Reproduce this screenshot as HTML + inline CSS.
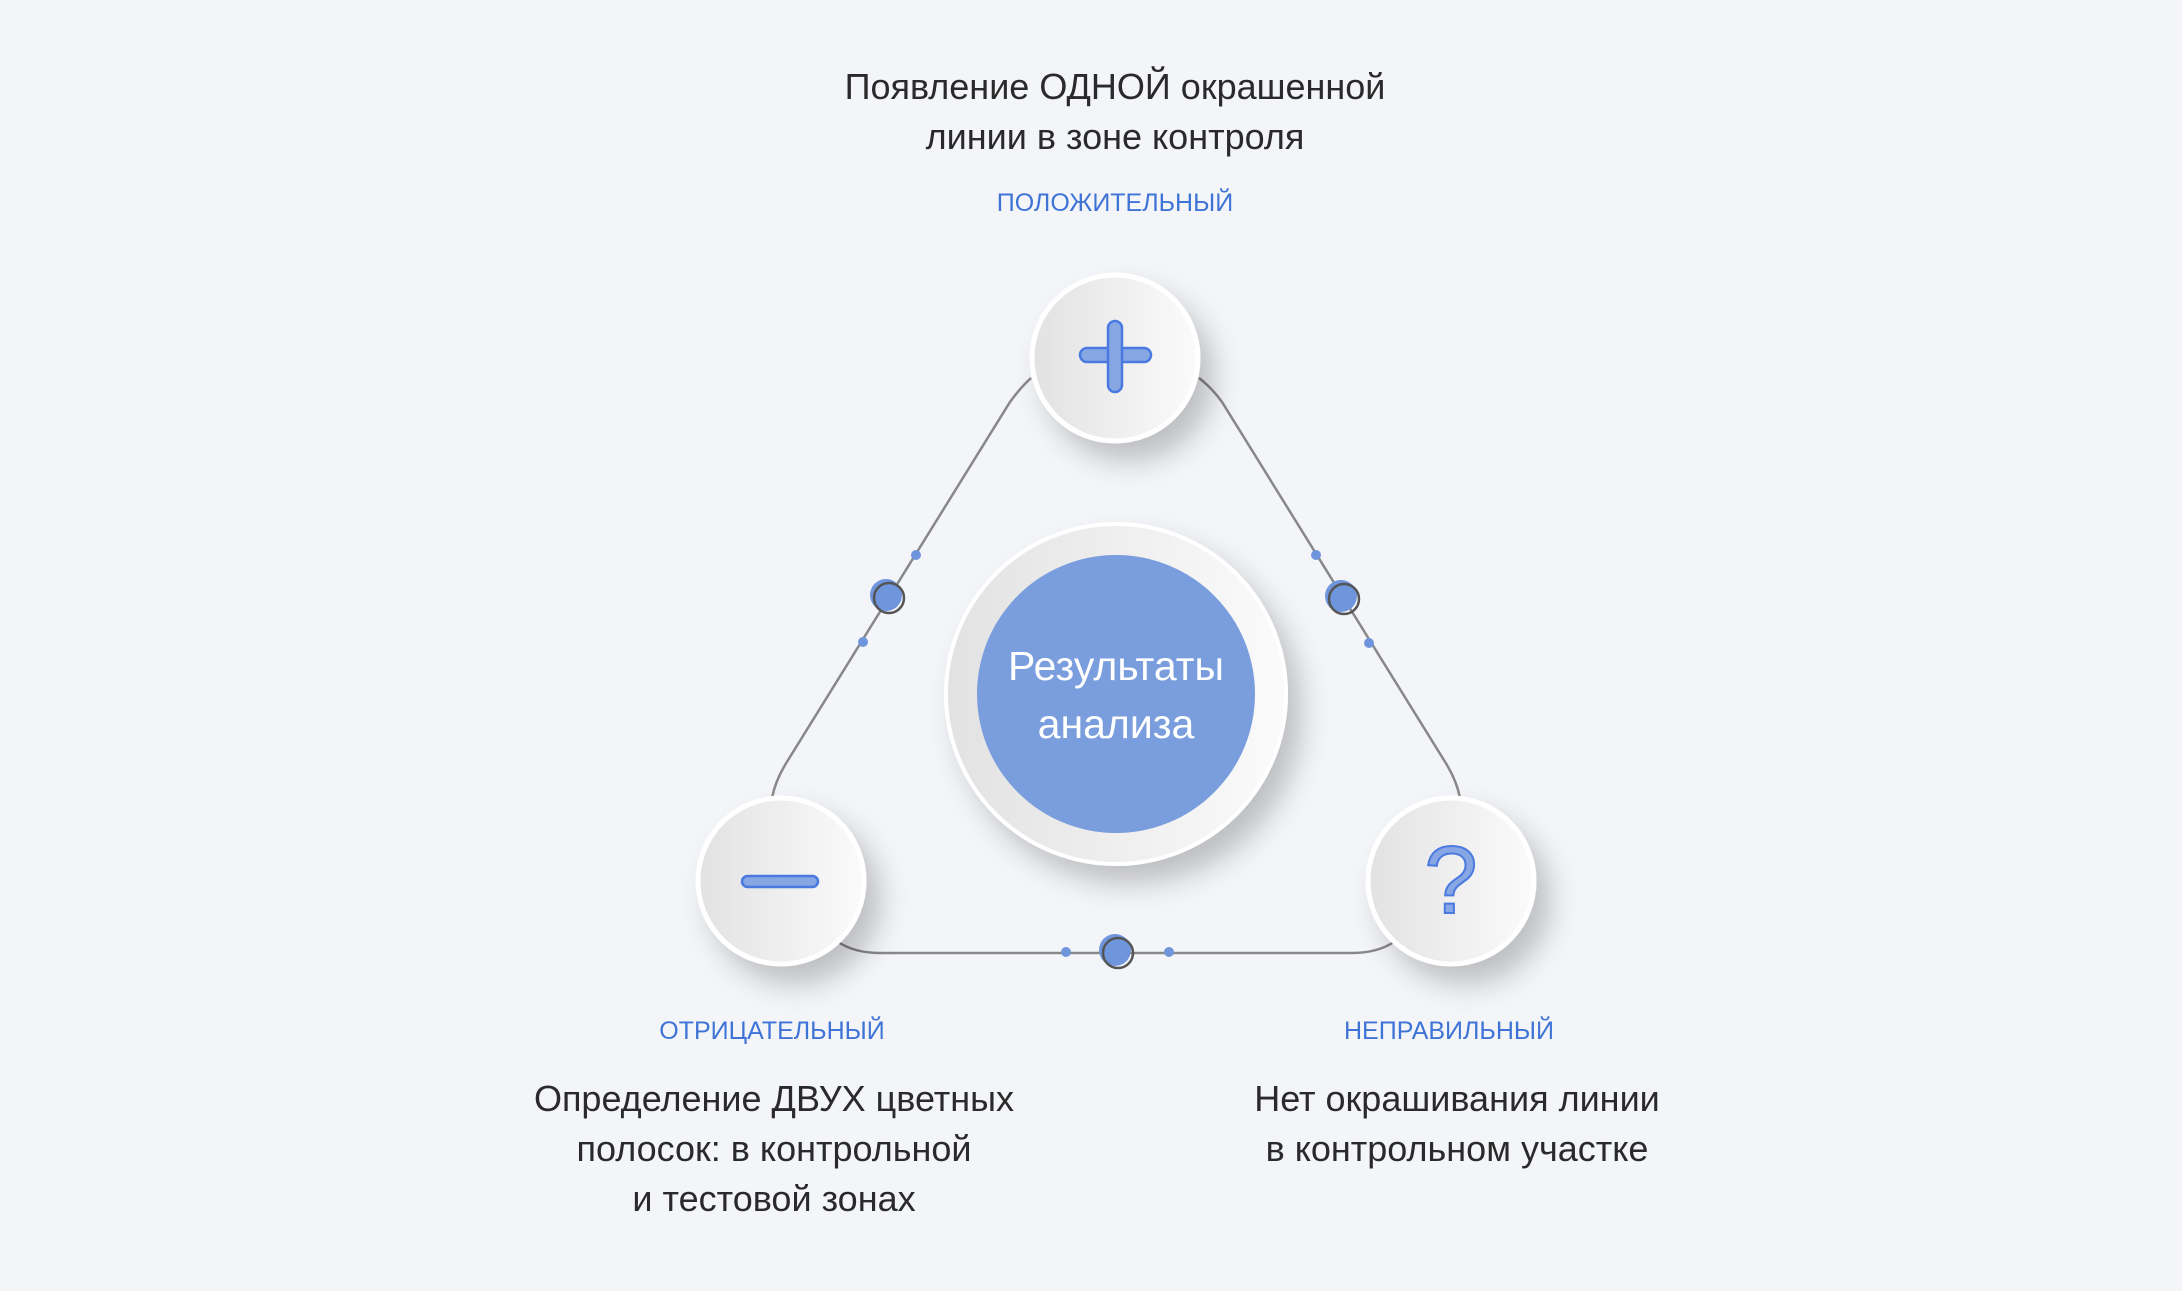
<!DOCTYPE html>
<html><head><meta charset="utf-8"><style>
html,body{margin:0;padding:0;background:#f3f5f9;}
svg{display:block}
text{font-family:"Liberation Sans","DejaVu Sans",sans-serif;}
</style></head><body>
<svg width="2182" height="1291" viewBox="0 0 2182 1291" xmlns="http://www.w3.org/2000/svg">
<defs>
<linearGradient id="g" x1="0" x2="1" y1="0" y2="0"><stop offset="0" stop-color="#e2e2e2"/><stop offset="1" stop-color="#fbfbfb"/></linearGradient>
<filter id="sh" x="-50%" y="-50%" width="200%" height="200%"><feDropShadow dx="14" dy="18" stdDeviation="14" flood-color="#000" flood-opacity="0.22"/></filter>
</defs>
<rect width="2182" height="1291" fill="#f3f5f9"/>
<g fill="none" stroke="#888" stroke-width="2.5">
<path d="M1031,378 Q1020,388 1010,402 L785,765 Q775,782 772,798"/>
<path d="M1199,378 Q1212,388 1222,402 L1447,765 Q1457,782 1460,798"/>
<path d="M838,942 Q855,953 880,953 L1352,953 Q1377,953 1394,942"/>
</g>
<g fill="#6f95dc">
<circle cx="916" cy="555" r="5"/><circle cx="863" cy="642" r="5"/>
<circle cx="1316" cy="555" r="5"/><circle cx="1369" cy="643" r="5"/>
<circle cx="1066" cy="952" r="5"/><circle cx="1169" cy="952" r="5"/>
<circle cx="886" cy="595" r="16"/><circle cx="1341" cy="596" r="16"/><circle cx="1115" cy="950" r="16"/>
</g>
<g fill="none" stroke="#555" stroke-width="2.5">
<circle cx="889" cy="598" r="15"/><circle cx="1344" cy="599" r="15"/><circle cx="1118" cy="953" r="15"/>
</g>
<circle cx="1116" cy="694" r="170" fill="url(#g)" stroke="#fff" stroke-width="4" filter="url(#sh)"/>
<circle cx="1116" cy="694" r="139" fill="#799ddd"/>
<text x="1116" y="680" font-size="41" fill="#fff" text-anchor="middle">Результаты</text>
<text x="1116" y="738" font-size="41" fill="#fff" text-anchor="middle">анализа</text>
<g stroke="#fff" stroke-width="5" fill="url(#g)" filter="url(#sh)">
<circle cx="1115" cy="358" r="83"/><circle cx="781" cy="881" r="83"/><circle cx="1451" cy="881" r="83"/>
</g>
<g fill="#86a6e4" stroke="#4a7ae0" stroke-width="2.5">
<rect x="1080" y="348" width="71" height="14" rx="7"/>
<rect x="1108" y="321" width="14" height="71" rx="7"/>
<rect x="742" y="876" width="76" height="11" rx="5.5"/>
</g>
<text x="1451" y="913" font-size="96" fill="#86a6e4" stroke="#4a7ae0" stroke-width="2" text-anchor="middle">?</text>
<g font-size="36" fill="#2a2a2a" text-anchor="middle">
<text x="1115" y="99">Появление ОДНОЙ окрашенной</text>
<text x="1115" y="149">линии в зоне контроля</text>
<text x="774" y="1111">Определение ДВУХ цветных</text>
<text x="774" y="1161">полосок: в контрольной</text>
<text x="774" y="1211">и тестовой зонах</text>
<text x="1457" y="1111">Нет окрашивания линии</text>
<text x="1457" y="1161">в контрольном участке</text>
</g>
<g font-size="25" fill="#3f74d6" text-anchor="middle">
<text x="1115" y="211">ПОЛОЖИТЕЛЬНЫЙ</text>
<text x="772" y="1039">ОТРИЦАТЕЛЬНЫЙ</text>
<text x="1449" y="1039">НЕПРАВИЛЬНЫЙ</text>
</g>
</svg>
</body></html>
